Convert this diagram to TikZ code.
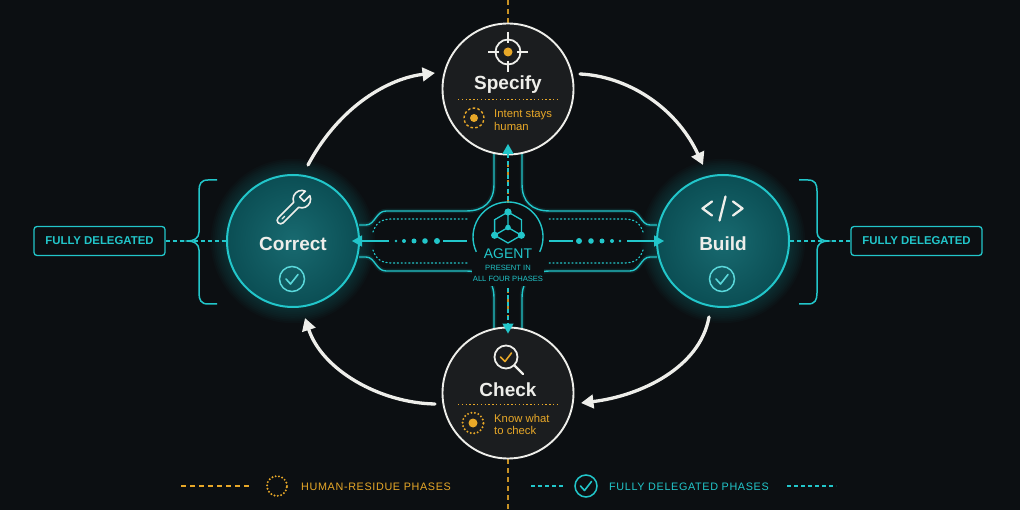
\documentclass[tikz,border=0pt]{standalone}
\usepackage{fontspec}
\setmainfont{Liberation Sans}
\newfontfamily\legfont[LetterSpace=6]{Liberation Sans}
\usetikzlibrary{arrows.meta,calc}
\definecolor{bgc}{RGB}{12,15,18}
\definecolor{cyn}{RGB}{34,198,202}
\definecolor{cynl}{RGB}{90,215,218}
\definecolor{tealf}{RGB}{11,78,84}
\definecolor{tealc}{RGB}{24,106,112}
\definecolor{org}{RGB}{232,168,40}
\definecolor{wht}{RGB}{238,238,234}
\definecolor{darkf}{RGB}{27,29,31}
\begin{document}
\begin{tikzpicture}[x=1pt,y=-1pt,
  humanphase/.style={circle, draw=wht, line width=1.9pt, fill=darkf, minimum size=131pt, inner sep=0pt},
  autophase/.style={circle, draw=cyn, line width=2pt, inner color=tealc, outer color=tealf, minimum size=132pt, inner sep=0pt},
  flow/.style={draw=wht, line width=3.3pt, line cap=round, -{Triangle[length=12.5pt,width=13.5pt]}},
  chan/.style={cyn, line width=1.4pt},
  changlow/.style={cyn, line width=4.5pt, opacity=0.12},
  chandot/.style={cyn, line width=1.2pt, dash pattern=on 1.2pt off 2.6pt, line cap=round},
  cydash/.style={cyn, line width=1.3pt, dash pattern=on 4pt off 3pt},
  orgdash/.style={org, line width=1.3pt, dash pattern=on 5pt off 4pt},
  cytip/.style={-{Triangle[length=10pt,width=11pt]}},
  ttl/.style={font=\bfseries\fontsize{19}{19}\selectfont, text=wht, anchor=base, inner sep=0pt},
  note/.style={font=\fontsize{11.3}{13}\selectfont, text=org, anchor=base west, inner sep=0pt},
  delbox/.style={draw=cyn, line width=1.3pt, rounded corners=3pt, minimum width=131pt, minimum height=29pt, text=cyn, font=\bfseries\fontsize{11.4}{11.4}\selectfont, fill=bgc, inner sep=0pt},
  legtext/.style={font=\legfont\fontsize{10.8}{11}\selectfont, anchor=base west, inner sep=0pt},
  agtext/.style={text=cyn, anchor=base, inner sep=0pt}
]
\useasboundingbox (0,0) rectangle (1020,510);
\fill[bgc] (0,0) rectangle (1020,510);

% vertical orange axis
\draw[orgdash, opacity=0.85] (508,0) -- (508,510);

% glow coordinates
\coordinate (cC) at (293,241);
\coordinate (cB) at (723,241);
\foreach \k in {1,...,9}{
  \fill[cyn, opacity=0.024] (cC) circle[radius=66pt+\k*1.8pt];
  \fill[cyn, opacity=0.024] (cB) circle[radius=66pt+\k*1.8pt];
}

% dashed links to labels
\node[delbox] (lbox) at (99.5,241) {FULLY DELEGATED};
\node[delbox] (rbox) at (916.5,241) {FULLY DELEGATED};
\draw[cydash] (lbox.east) -- (cC);
\draw[cydash] (rbox.west) -- (cB);

% braces
\draw[cyn, line width=1.5pt] (217,180) -- (208,180) .. controls (201,180) and (199,184) .. (199,191) -- (199,232) .. controls (199,238) and (194,241) .. (188,241) .. controls (194,241) and (199,244) .. (199,250) -- (199,293) .. controls (199,300) and (201,304) .. (208,304) -- (217,304);
\draw[cyn, line width=1.5pt] (799,180) -- (808,180) .. controls (815,180) and (817,184) .. (817,191) -- (817,232) .. controls (817,238) and (822,241) .. (828,241) .. controls (822,241) and (817,244) .. (817,250) -- (817,293) .. controls (817,300) and (815,304) .. (808,304) -- (799,304);

% channel outer lines
\foreach \s in {changlow,chan}{
\draw[\s] (359,225) -- (366,225) .. controls (375,225) and (376,211) .. (386,211) -- (466,211) .. controls (484,211) and (494,202) .. (494,184) -- (494,150);
\draw[\s] (657,225) -- (650,225) .. controls (641,225) and (640,211) .. (630,211) -- (550,211) .. controls (532,211) and (522,202) .. (522,184) -- (522,150);
\draw[\s] (359,257) -- (366,257) .. controls (375,257) and (376,271) .. (386,271) -- (466,271) .. controls (484,271) and (494,280) .. (494,298) -- (494,332);
\draw[\s] (657,257) -- (650,257) .. controls (641,257) and (640,271) .. (630,271) -- (550,271) .. controls (532,271) and (522,280) .. (522,298) -- (522,332);
}
% inner dotted
\draw[chandot] (373,232) .. controls (376,223) and (381,219) .. (392,219) -- (468,219);
\draw[chandot] (643,232) .. controls (640,223) and (635,219) .. (624,219) -- (548,219);
\draw[chandot] (373,250) .. controls (376,259) and (381,263) .. (392,263) -- (468,263);
\draw[chandot] (643,250) .. controls (640,259) and (635,263) .. (624,263) -- (548,263);

% phase circles
\node[humanphase] (spec) at (508,89) {};
\node[humanphase] (check) at (508,393) {};
\node[autophase] (corr) at (cC) {};
\node[autophase] (build) at (cB) {};

% cycle arrows
\draw[flow] ([shift={(15,-76)}]corr.center) .. controls (340,105) and (390,78) .. ([shift={(-73,-16)}]spec.center);
\draw[flow] ([shift={(72,-15)}]spec.center) .. controls (625,76) and (675,105) .. ([shift={(-20,-76)}]build.center);
\draw[flow] ([shift={(-14,76)}]build.center) .. controls (700,368) and (640,396) .. ([shift={(73,10)}]check.center);
\draw[flow] ([shift={(-73,11)}]check.center) .. controls (380,403) and (322,370) .. ([shift={(12,77)}]corr.center);

% agent hub
\coordinate (agc) at (508,237);
\fill[bgc] (agc) circle[radius=34pt];
\fill[bgc] (472,240) rectangle (544,286);
\node[circle, minimum size=70pt, inner sep=0pt] (agent) at (agc) {};
\draw[chan] ([shift={(-25:35pt)}]agc) arc[start angle=-25, end angle=205, radius=35pt];
% hex icon
\coordinate (hx) at (508,227.5);
\draw[cyn, line width=1.3pt] (508,212) -- (521.4,219.75) -- (521.4,235.25) -- (508,243) -- (494.6,235.25) -- (494.6,219.75) -- cycle;
\draw[cyn, line width=1.3pt] (508,212) -- (hx) -- (521.4,235.25) (hx) -- (494.6,235.25);
\fill[cyn] (508,212) circle[radius=3.6pt] (521.4,235.25) circle[radius=3.6pt] (494.6,235.25) circle[radius=3.6pt] (hx) circle[radius=2.8pt];
\node[agtext, font=\fontsize{14}{14}\selectfont] (agt) at (508,259) {AGENT};
\node[agtext, font=\fontsize{7.6}{8}\selectfont] (agp1) at (508,271) {PRESENT IN};
\node[agtext, font=\fontsize{7.6}{8}\selectfont] (agp2) at (508,281.5) {ALL FOUR PHASES};

% agent -> correct
\draw[chan] (467,241) -- (443,241);
\fill[cyn] (437,241) circle[radius=3pt] (425,241) circle[radius=2.8pt] (414,241) circle[radius=2.5pt] (404,241) circle[radius=2pt] (396,241) circle[radius=1.3pt];
\draw[chan, cytip] (389,241) -- ([xshift=-8pt]corr.east);
% agent -> build
\draw[chan] (549,241) -- (573,241);
\fill[cyn] (579,241) circle[radius=3pt] (591,241) circle[radius=2.8pt] (602,241) circle[radius=2.5pt] (612,241) circle[radius=2pt] (620,241) circle[radius=1.3pt];
\draw[chan, cytip] (627,241) -- ([xshift=8pt]build.west);
% agent -> specify / check
\draw[cydash, cytip] (508,200) -- ([yshift=11.5pt]spec.south);
\draw[cydash, cytip] (508,288) -- ([yshift=-7pt]check.north);

% Specify contents
\draw[wht, line width=1.8pt] (508,52) circle[radius=12.5pt];
\draw[wht, line width=1.8pt] (508,32) -- (508,43) (508,61) -- (508,72) (488,52) -- (499,52) (517,52) -- (528,52);
\fill[org] (508,52) circle[radius=4.5pt];
\node[ttl] (spect) at (508,90) {Specify};
\draw[org, line width=1.3pt, dash pattern=on 1.4pt off 2.4pt] (458,99.5) -- (557,99.5);
\draw[org, line width=1.4pt, dash pattern=on 2.6pt off 2.2pt] (474,118) circle[radius=10pt];
\fill[org] (474,118) circle[radius=4pt];
\node[note] (specn1) at (494,118) {Intent stays};
\node[note] (specn2) at (494,131) {human};

% Check contents
\draw[wht, line width=1.8pt] (506,357) circle[radius=11.5pt];
\draw[wht, line width=2.4pt, line cap=round] (514.5,365.5) -- (523,374);
\draw[org, line width=1.6pt, line cap=round, line join=round] (500.5,357) -- (505,361.5) -- (511.5,353);
\node[ttl] (checkt) at (508,396) {Check};
\draw[org, line width=1.3pt, dash pattern=on 1.4pt off 2.4pt] (458,404.5) -- (557,404.5);
\draw[org, line width=2.2pt, line cap=round, dash pattern=on 0pt off 3.6pt] (473,423) circle[radius=10.5pt];
\fill[org] (473,423) circle[radius=4.5pt];
\node[note] (checkn1) at (494,422) {Know what};
\node[note] (checkn2) at (494,435) {to check};

% Correct contents
\begin{scope}[shift={(293,208)}, rotate=45, scale=1.25]
\draw[wht, line width=1.6pt, line join=round] (3.6,2.8) arc[start angle=-156.4, end angle=-20.9, radius=7pt] -- (10,2.5) -- (10,-2.5) -- (16.54,-2.5) arc[start angle=20.9, end angle=156.4, radius=7pt] -- (-14,-2.8) arc[start angle=90, end angle=270, radius=2.8pt] -- cycle;
\draw[wht, line width=1.2pt, line cap=round] (-12.5,0) -- (-9.5,0);
\end{scope}
\node[ttl] (corrt) at (293,251) {Correct};
\draw[cynl, line width=1.5pt] (292,279) circle[radius=12.5pt];
\draw[cynl, line width=1.6pt, line cap=round, line join=round] (286,279) -- (290.5,284) -- (298,274.5);

% Build contents
\draw[wht, line width=2.3pt, line cap=round, line join=round] (712,201.5) -- (702.5,208.5) -- (712,215.5);
\draw[wht, line width=2.3pt, line cap=round, line join=round] (733,201.5) -- (742.5,208.5) -- (733,215.5);
\draw[wht, line width=2.3pt, line cap=round] (719.5,220.5) -- (725.5,196.5);
\node[ttl] (buildt) at (723,251) {Build};
\draw[cynl, line width=1.5pt] (722,279) circle[radius=12.5pt];
\draw[cynl, line width=1.6pt, line cap=round, line join=round] (716,279) -- (720.5,284) -- (728,274.5);

% legend
\draw[orgdash] (181,486) -- (252,486);
\node[circle, draw=org, line width=2.2pt, line cap=round, dash pattern=on 0pt off 3.4pt, minimum size=20pt, inner sep=0pt] (lgh) at (277,486) {};
\node[legtext, text=org] (lght) at (301,490) {HUMAN-RESIDUE PHASES};
\draw[cydash] (531,486) -- (564,486);
\node[circle, draw=cyn, line width=1.5pt, minimum size=22pt, inner sep=0pt] (lgd) at (586,486) {};
\draw[cyn, line width=1.6pt, line cap=round, line join=round] (580.5,486) -- (584.5,490.5) -- (591.5,481.5);
\node[legtext, text=cyn] (lgdt) at (609,490) {FULLY DELEGATED PHASES};
\draw[cydash] (787,486) -- (836,486);
\end{tikzpicture}
\end{document}
